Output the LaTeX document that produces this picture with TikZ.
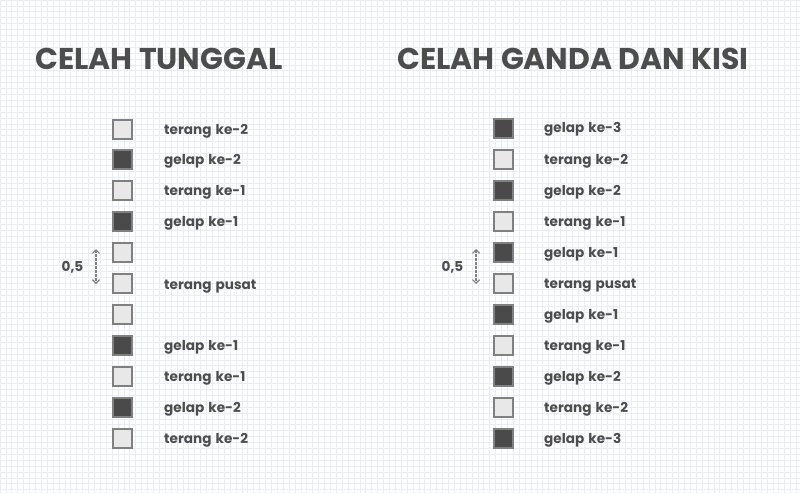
\documentclass[tikz,border=0pt]{standalone}
\usepackage{fontspec}
\setmainfont{Poppins}
\usetikzlibrary{arrows.meta}
\definecolor{gridc}{HTML}{E9EDF8}
\definecolor{txt}{HTML}{4D4D4D}
\definecolor{litef}{HTML}{E8E8E8}
\definecolor{darkf}{HTML}{4A4A4A}
\definecolor{edgec}{HTML}{808080}
\newcommand\lblfont{\fontsize{13.6}{15}\selectfont\bfseries\spaceskip=0.3em\relax}
\tikzset{
  title/.style={anchor=base west, text=txt, font=\fontsize{30}{34}\selectfont\bfseries, inner sep=0pt},
  lbl/.style={anchor=base west, text=txt, font=\lblfont, inner sep=0pt},
  lite/.style={draw=edgec, line width=2pt, fill=litef, minimum size=19pt, inner sep=0pt},
  dark/.style={draw=edgec, line width=2pt, fill=darkf, minimum size=19pt, inner sep=0pt},
  dim/.style={draw=edgec, line width=1.2pt, dash pattern=on 2.5pt off 1.5pt, {Straight Barb[length=3.5pt,width=7pt]}-{Straight Barb[length=3.5pt,width=7pt]}},
}
\begin{document}
\begin{tikzpicture}[x=1pt,y=-1pt]
\useasboundingbox (0,0) rectangle (800,493);
\fill[white] (0,0) rectangle (800,493);
\foreach \i in {0,...,136} {
  \draw[gridc, line width=0.7pt] ({\i*5.9},0) -- ({\i*5.9},493);
}
\foreach \j in {0,...,84} {
  \draw[gridc, line width=0.7pt] (0,{\j*5.9}) -- (800,{\j*5.9});
}
\node[title] (t1) at (35,69) {CELAH TUNGGAL};
\node[title] (t2) at (397,69) {CELAH GANDA DAN KISI};

% left column
\node[lite] (l1) at (122.5,129) {};
\node[dark] (l2) at (122.5,159.5) {};
\node[lite] (l3) at (122.5,190.5) {};
\node[dark] (l4) at (122.5,221.5) {};
\node[lite] (l5) at (122.5,252.5) {};
\node[lite] (l6) at (122.5,283.5) {};
\node[lite] (l7) at (122.5,314.5) {};
\node[dark] (l8) at (122.5,345.5) {};
\node[lite] (l9) at (122.5,376.5) {};
\node[dark] (l10) at (122.5,407.5) {};
\node[lite] (l11) at (122.5,438.5) {};
\node[lbl] (a1) at (164,134) {terang ke-2};
\node[lbl] (a2) at (164,164.5) {gelap ke-2};
\node[lbl] (a3) at (164,195.5) {terang ke-1};
\node[lbl] (a4) at (164,226.5) {gelap ke-1};
\node[lbl] (a6) at (164,289.5) {terang pusat};
\node[lbl] (a8) at (164,350.5) {gelap ke-1};
\node[lbl] (a9) at (164,381.5) {terang ke-1};
\node[lbl] (a10) at (164,412.5) {gelap ke-2};
\node[lbl] (a11) at (164,443.5) {terang ke-2};
\coordinate (d1t) at (96,249);
\coordinate (d1b) at (96,284);
\draw[dim] (d1t) -- (d1b);
\node[lbl] (h1) at (61.5,271) {0,5};

% right column
\node[dark] (r1) at (503,128.5) {};
\node[lite] (r2) at (503,159.5) {};
\node[dark] (r3) at (503,190.5) {};
\node[lite] (r4) at (503,221.5) {};
\node[dark] (r5) at (503,252.5) {};
\node[lite] (r6) at (503,283.5) {};
\node[dark] (r7) at (503,314.5) {};
\node[lite] (r8) at (503,345.5) {};
\node[dark] (r9) at (503,376.5) {};
\node[lite] (r10) at (503,407.5) {};
\node[dark] (r11) at (503,438.5) {};
\node[lbl] (b1) at (544,132.5) {gelap ke-3};
\node[lbl] (b2) at (544,164.5) {terang ke-2};
\node[lbl] (b3) at (544,195.5) {gelap ke-2};
\node[lbl] (b4) at (544,226.5) {terang ke-1};
\node[lbl] (b5) at (544,257.5) {gelap ke-1};
\node[lbl] (b6) at (544,288.5) {terang pusat};
\node[lbl] (b7) at (544,319.5) {gelap ke-1};
\node[lbl] (b8) at (544,350.5) {terang ke-1};
\node[lbl] (b9) at (544,381.5) {gelap ke-2};
\node[lbl] (b10) at (544,412.5) {terang ke-2};
\node[lbl] (b11) at (544,443.5) {gelap ke-3};
\coordinate (d2t) at (476,249);
\coordinate (d2b) at (476,284);
\draw[dim] (d2t) -- (d2b);
\node[lbl] (h2) at (441.5,271) {0,5};
\end{tikzpicture}
\end{document}
